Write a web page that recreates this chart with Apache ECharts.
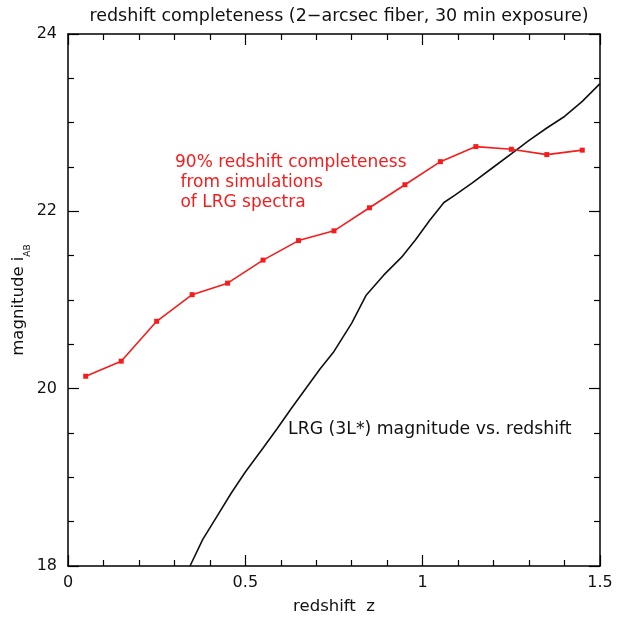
<!DOCTYPE html>
<html>
<head>
<meta charset="utf-8">
<script src="https://cdn.jsdelivr.net/npm/echarts@6/dist/echarts.min.js"></script>
<style>
html,body{margin:0;padding:0;background:#fff;}
#chart{width:625px;height:619px;}
</style>
</head>
<body>
<div id="chart"></div>
<script>
// Red series: 90% redshift completeness from simulations
const redZ = [0.05, 0.15, 0.25, 0.35, 0.45, 0.55, 0.65, 0.75, 0.85, 0.95, 1.05, 1.15, 1.25, 1.35, 1.45];
const redMag = [20.14, 20.31, 20.76, 21.06, 21.19, 21.45, 21.67, 21.78, 22.04, 22.30, 22.56, 22.73, 22.70, 22.64, 22.69];

// Black curve: LRG (3L*) magnitude vs redshift
const blackZ = [0.344, 0.38, 0.42, 0.46, 0.50, 0.55, 0.59, 0.63, 0.67, 0.71, 0.75, 0.80, 0.84, 0.89, 0.94, 0.98, 1.02, 1.06, 1.09, 1.14, 1.20, 1.26, 1.30, 1.35, 1.40, 1.45, 1.50];
const blackMag = [18.0, 18.3, 18.56, 18.82, 19.06, 19.33, 19.55, 19.78, 20.0, 20.22, 20.42, 20.74, 21.05, 21.28, 21.48, 21.68, 21.90, 22.10, 22.18, 22.32, 22.50, 22.68, 22.80, 22.94, 23.07, 23.24, 23.44];

const xTicks = [0, 0.5, 1, 1.5];
const yTicks = [18, 20, 22, 24];

const FONT = 'DejaVu Sans';
const chart = echarts.init(document.getElementById('chart'), null, {renderer: 'canvas'});

function makeAxis(extra, split) {
  return Object.assign({
    type: 'value',
    axisLine: {show: true, onZero: false, lineStyle: {color: '#000', width: 1.5}},
    axisTick: {show: true, inside: true, length: 11, lineStyle: {color: '#000', width: 1.2}},
    minorTick: {show: true, splitNumber: split, length: 6, lineStyle: {color: '#000', width: 1.2}},
    splitLine: {show: false},
    minorSplitLine: {show: false}
  }, extra);
}

const fmtX = v => xTicks.includes(v) ? String(v) : '';
const fmtY = v => yTicks.includes(v) ? String(v) : '';

chart.setOption({
  animation: false,
  backgroundColor: '#fff',
  title: {
    text: 'redshift completeness (2\u2212arcsec fiber, 30 min exposure)',
    left: 334, textAlign: 'center', top: 2,
    textStyle: {fontFamily: FONT, fontSize: 17.5, fontWeight: 'normal', color: '#111'}
  },
  grid: {left: 68, right: 25, top: 34, bottom: 53, containLabel: false, outerBoundsMode: 'none'},
  xAxis: [
    makeAxis({
      position: 'bottom', min: 0, max: 1.5, interval: 0.5,
      axisLabel: {formatter: fmtX, margin: 9, fontFamily: FONT, fontSize: 16, color: '#111'},
      name: 'redshift  z', nameLocation: 'middle', nameGap: 32,
      nameTextStyle: {fontFamily: FONT, fontSize: 16.5, color: '#111'}
    }, 5),
    makeAxis({
      position: 'top', min: 0, max: 1.5, interval: 0.5,
      axisLabel: {show: false}
    }, 5)
  ],
  yAxis: [
    makeAxis({
      position: 'left', min: 18, max: 24, interval: 2,
      axisLabel: {formatter: fmtY, margin: 11, fontFamily: FONT, fontSize: 16, color: '#111'},
      name: '{a|magnitude i}{s|AB}', nameLocation: 'middle', nameGap: 36, nameRotate: 90,
      nameMoveOverlap: false,
      nameTextStyle: {
        fontFamily: FONT, fontSize: 16.5, color: '#111',
        rich: {
          a: {fontFamily: FONT, fontSize: 16.5, color: '#111', lineHeight: 22, verticalAlign: 'top'},
          s: {fontFamily: FONT, fontSize: 9, color: '#111', lineHeight: 22, verticalAlign: 'bottom', padding: [7, 0, 0, 0]}
        }
      }
    }, 4),
    makeAxis({
      position: 'right', min: 18, max: 24, interval: 2,
      axisLabel: {show: false}
    }, 4)
  ],
  series: [
    {
      type: 'line', name: 'LRG',
      data: blackZ.map((z, i) => [z, blackMag[i]]),
      showSymbol: false, symbol: 'none',
      lineStyle: {color: '#111', width: 1.6},
      clip: true, z: 2
    },
    {
      type: 'line', name: 'completeness',
      data: redZ.map((z, i) => [z, redMag[i]]),
      symbol: 'rect', symbolSize: 5,
      itemStyle: {color: '#f51c1c'},
      lineStyle: {color: '#f51c1c', width: 1.6},
      z: 3
    }
  ],
  graphic: [
    {
      type: 'text', left: 175, top: 153,
      style: {
        text: '90% redshift completeness\n from simulations\n of LRG spectra',
        font: '17px "DejaVu Sans"', fill: '#f51c1c', lineHeight: 20
      }
    },
    {
      type: 'text', left: 288, top: 420,
      style: {
        text: 'LRG (3L*) magnitude vs. redshift',
        font: '17.3px "DejaVu Sans"', fill: '#111', lineHeight: 20
      }
    }
  ]
});
</script>
</body>
</html>
